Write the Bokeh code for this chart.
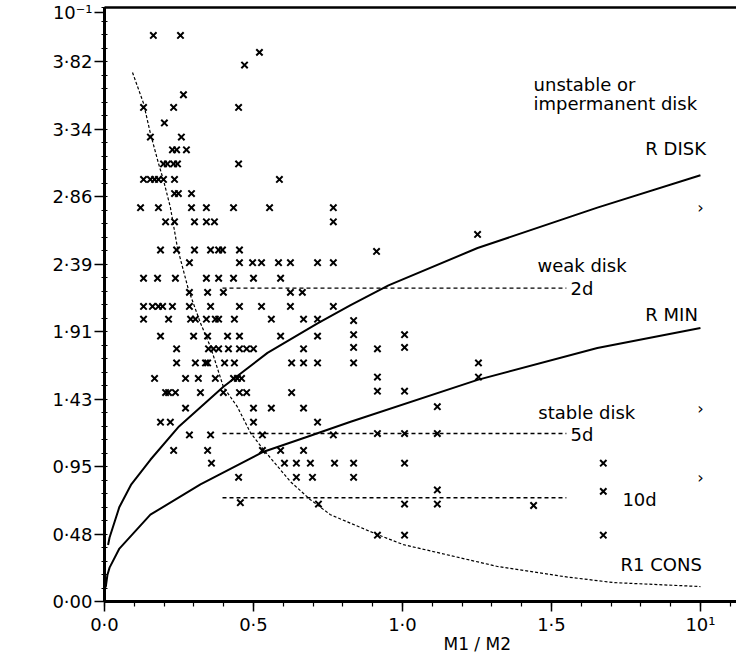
from bokeh.plotting import figure
from bokeh.models import FixedTicker, LinearAxis, Label, Range1d
from bokeh.core.properties import value
from bokeh.embed import file_html
from bokeh.resources import INLINE

FONT = "DejaVu Sans"

# ---- data ----
pts_x = [0.164, 0.255, 0.520, 0.470, 0.265, 0.131, 0.232, 0.450, 0.201, 0.154, 0.258,
         0.228, 0.242, 0.275, 0.198, 0.211, 0.232, 0.245, 0.450,
         0.131, 0.154, 0.168, 0.181, 0.198, 0.235, 0.587, 0.235, 0.248, 0.292,
         0.121, 0.181, 0.292, 0.342, 0.433, 0.554, 0.768,
         0.205, 0.235, 0.302, 0.342, 0.369, 0.768,
         0.188, 0.242, 0.302, 0.356, 0.383, 0.396, 0.453,
         0.285, 0.453, 0.497, 0.527, 0.584, 0.624, 0.715, 0.768, 0.913, 1.252,
         0.131, 0.178, 0.238, 0.342, 0.383, 0.433, 0.500, 0.591,
         0.285, 0.346, 0.399, 0.624, 0.664,
         0.131, 0.161, 0.181, 0.195, 0.228, 0.285, 0.356, 0.453, 0.527, 0.624, 0.768,
         0.131, 0.215, 0.289, 0.305, 0.342, 0.372, 0.383, 0.436, 0.560, 0.668, 0.715,
         0.188, 0.299, 0.346, 0.413, 0.453, 0.591, 0.715,
         0.242, 0.349, 0.366, 0.383, 0.416, 0.453, 0.477, 0.500, 0.668,
         0.242, 0.305, 0.339, 0.346, 0.403, 0.436, 0.628, 0.668, 0.715,
         0.168, 0.272, 0.315, 0.372, 0.433, 0.446, 0.460,
         0.205, 0.215, 0.238, 0.322, 0.399, 0.453, 0.477, 0.628,
         0.272, 0.500, 0.560, 0.668,
         0.188, 0.221, 0.500, 0.715,
         0.285, 0.356, 0.530, 0.768,
         0.232, 0.346, 0.530, 0.591, 0.668,
         0.836, 0.836, 0.836, 0.836, 0.916, 1.007, 1.007, 0.916, 0.916, 1.007, 1.117,
         1.255, 1.255, 0.916, 1.007, 1.117,
         0.772, 0.836, 0.836, 1.007, 1.117, 1.007, 1.117, 1.440, 1.674, 1.674, 1.674,
         0.916, 1.007,
         0.359, 0.604, 0.644, 0.691, 0.450, 0.456, 0.644, 0.698, 0.718]
pts_y = [4.01, 4.01, 3.89, 3.80, 3.59, 3.50, 3.50, 3.50, 3.39, 3.29, 3.29,
         3.20, 3.20, 3.20, 3.10, 3.10, 3.10, 3.10, 3.10,
         2.99, 2.99, 2.99, 2.99, 2.99, 2.99, 2.99, 2.89, 2.89, 2.89,
         2.79, 2.79, 2.79, 2.79, 2.79, 2.79, 2.79,
         2.69, 2.69, 2.69, 2.69, 2.69, 2.69,
         2.49, 2.49, 2.49, 2.49, 2.49, 2.49, 2.49,
         2.40, 2.40, 2.40, 2.40, 2.40, 2.40, 2.40, 2.40, 2.48, 2.60,
         2.29, 2.29, 2.29, 2.29, 2.29, 2.29, 2.29, 2.29,
         2.19, 2.19, 2.19, 2.19, 2.19,
         2.09, 2.09, 2.09, 2.09, 2.09, 2.09, 2.09, 2.09, 2.09, 2.09, 2.09,
         2.00, 2.00, 2.00, 2.00, 2.00, 2.00, 2.00, 2.00, 2.00, 2.00, 2.00,
         1.88, 1.88, 1.88, 1.88, 1.88, 1.88, 1.88,
         1.79, 1.79, 1.79, 1.79, 1.79, 1.79, 1.79, 1.79, 1.79,
         1.69, 1.69, 1.69, 1.69, 1.69, 1.69, 1.69, 1.69, 1.69,
         1.58, 1.58, 1.58, 1.58, 1.58, 1.58, 1.58,
         1.48, 1.48, 1.48, 1.48, 1.48, 1.48, 1.48, 1.48,
         1.37, 1.37, 1.37, 1.37,
         1.27, 1.27, 1.27, 1.27,
         1.18, 1.18, 1.18, 1.18,
         1.07, 1.07, 1.07, 1.07, 1.07,
         1.99, 1.89, 1.80, 1.69, 1.79, 1.89, 1.80, 1.59, 1.49, 1.49, 1.38,
         1.69, 1.59, 1.19, 1.19, 1.19,
         0.98, 0.98, 0.88, 0.98, 0.79, 0.69, 0.69, 0.68, 0.98, 0.78, 0.47,
         0.47, 0.47,
         0.98, 0.98, 0.98, 0.98, 0.88, 0.70, 0.88, 0.88, 0.69]

rdisk_x = [0.012, 0.017, 0.05, 0.09, 0.154, 0.25, 0.399, 0.547, 0.715, 0.826, 0.953, 1.252, 1.654, 2.0]
rdisk_y = [0.40, 0.453, 0.67, 0.83, 1.004, 1.24, 1.521, 1.761, 1.97, 2.10, 2.24, 2.504, 2.79, 3.02]

rmin_x = [0.004, 0.01, 0.017, 0.05, 0.154, 0.322, 0.534, 0.681, 0.826, 1.252, 1.654, 2.0]
rmin_y = [0.10, 0.19, 0.24, 0.375, 0.615, 0.83, 1.061, 1.167, 1.273, 1.57, 1.796, 1.938]

rcons_x = [0.094, 0.131, 0.154, 0.181, 0.198, 0.221, 0.245, 0.282, 0.322, 0.356, 0.399,
           0.446, 0.490, 0.534, 0.624, 0.691, 0.758, 0.916, 1.003, 1.319, 1.540, 1.708, 2.0]
rcons_y = [3.748, 3.529, 3.317, 3.105, 2.984, 2.793, 2.504, 2.207, 1.973, 1.803, 1.520,
           1.379, 1.195, 1.075, 0.849, 0.721, 0.615, 0.474, 0.403, 0.248, 0.177, 0.134, 0.106]

level_y = [2.22, 1.19, 0.735]
level_x0 = [0.396, 0.396, 0.396]
level_x1 = [1.55, 1.55, 1.55]

arrow_x = [2.0, 2.0, 2.0]
arrow_y = [2.79, 1.37, 0.88]

note_text = ["unstable or", "impermanent disk", "R DISK", "weak disk", "2d", "R MIN",
             "stable disk", "5d", "10d", "R1 CONS"]
note_x = [1.44, 1.44, 1.815, 1.453, 1.564, 1.815, 1.456, 1.564, 1.738, 1.732]
note_y = [3.66, 3.53, 3.21, 2.38, 2.22, 2.03, 1.34, 1.18, 0.72, 0.26]

x_ticks = [0.0, 0.5, 1.0, 1.5, 2.0]
x_tick_labels = ["0·0", "0·5", "1·0", "1·5", "10¹"]
x_minor = [0.1 * i for i in range(22)]

y_ticks = [0.0, 0.478, 0.956, 1.433, 1.911, 2.389, 2.867, 3.344, 3.822, 4.17]
y_tick_labels = ["0·00", "0·48", "0·95", "1·43", "1·91", "2·39", "2·86", "3·34", "3·82", "10⁻¹"]
y_minor = [0.4778 / 5 * i for i in range(45)]

x_title = "M1 / M2"
y_title = "R1"

# ---- figure ----
p = figure(width=736, height=656, output_backend="svg", toolbar_location=None,
           x_range=Range1d(0, 2.121), y_range=Range1d(0, 4.208),
           min_border_left=104, min_border_right=0, min_border_top=7, min_border_bottom=54,
           x_axis_type=None, y_axis_type=None)
p.grid.visible = False
p.outline_line_color = None
p.background_fill_color = "white"
p.border_fill_color = "white"

xaxis = LinearAxis(ticker=FixedTicker(ticks=x_ticks, minor_ticks=x_minor))
xaxis.major_label_overrides = dict(zip(x_ticks, x_tick_labels))
yaxis = LinearAxis(ticker=FixedTicker(ticks=y_ticks, minor_ticks=y_minor))
yaxis.major_label_overrides = dict(zip(y_ticks, y_tick_labels))
for ax in (xaxis, yaxis):
    ax.axis_line_width = 3
    ax.axis_line_color = "black"
    ax.major_tick_line_color = "black"
    ax.minor_tick_line_color = "black"
    ax.major_tick_line_width = 1.5
    ax.minor_tick_line_width = 1.2
    ax.major_tick_out = 10
    ax.major_tick_in = 0
    ax.minor_tick_out = 5
    ax.minor_tick_in = 0
    ax.major_label_text_font = FONT
    ax.major_label_text_font_size = "18px"
    ax.major_label_text_color = "black"
    ax.major_label_standoff = 2
yaxis.minor_tick_out = 3
yaxis.minor_tick_in = 3

# x title: shifted right of the frame centre by leading no-break spaces
xaxis.axis_label = "\u00a0" * 21 + x_title
xaxis.axis_label_text_font = FONT
xaxis.axis_label_text_font_size = "17px"
xaxis.axis_label_text_font_style = "normal"
xaxis.axis_label_text_color = "black"
xaxis.axis_label_standoff = -4

p.add_layout(xaxis, "below")
p.add_layout(yaxis, "left")

top = LinearAxis(ticker=FixedTicker(ticks=[]))
top.axis_line_width = 2.5
top.major_tick_line_color = None
top.minor_tick_line_color = None
p.add_layout(top, "above")

# curves
p.line(rdisk_x, rdisk_y, line_color="black", line_width=2)
p.line(rmin_x, rmin_y, line_color="black", line_width=2)
p.line(rcons_x, rcons_y, line_color="black", line_width=1.2, line_dash="3 2")
p.segment(x0=level_x0, y0=level_y, x1=level_x1, y1=level_y, line_color="black",
          line_width=1.3, line_dash="4 3")

# data points
p.scatter(pts_x, pts_y, marker="x", size=9, line_color="black", line_width=2)

# annotations
p.text(x=note_x, y=note_y, text=note_text, text_font=value(FONT), text_font_size="18px",
       text_align="left", text_baseline="middle", text_color="black")
p.text(x=arrow_x, y=arrow_y, text=["›"] * len(arrow_x), text_font=value(FONT),
       text_font_size="16px", text_align="center", text_baseline="middle", text_color="black")

p.add_layout(Label(x=-0.30, y=2.68, text=y_title, text_font=FONT, text_font_size="18px",
                   text_align="center", text_baseline="middle", text_color="black"))

open("out.html", "w").write(file_html(p, INLINE))
